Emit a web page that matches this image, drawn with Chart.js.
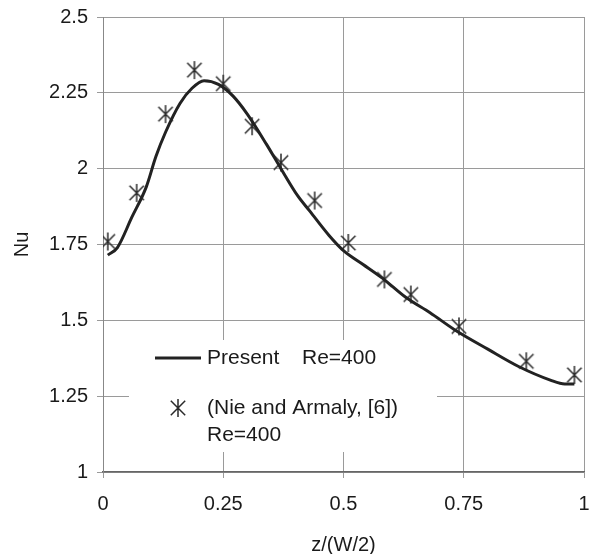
<!DOCTYPE html>
<html>
<head>
<meta charset="utf-8">
<script src="https://cdn.jsdelivr.net/npm/chart.js@4"></script>
<style>
  html, body { margin: 0; padding: 0; background: #fff; }
  #wrap { width: 595px; height: 554px; }
</style>
</head>
<body>
<div id="wrap"><canvas id="nu-chart" width="595" height="554"></canvas></div>
<script>
// Present simulation, Re=400
const zPresent = [0.01, 0.03, 0.06, 0.09, 0.11, 0.13, 0.16, 0.185, 0.21, 0.24, 0.27, 0.30, 0.34, 0.37, 0.405, 0.43, 0.47, 0.50, 0.54, 0.58, 0.63, 0.68, 0.73, 0.80, 0.865, 0.93, 0.96, 0.98];
const nuPresent = [1.715, 1.74, 1.84, 1.94, 2.04, 2.12, 2.215, 2.265, 2.29, 2.278, 2.24, 2.18, 2.08, 2.0, 1.91, 1.86, 1.78, 1.73, 1.685, 1.64, 1.575, 1.525, 1.47, 1.405, 1.347, 1.303, 1.29, 1.29];

// Nie and Armaly [6], Re=400
const zNie = [0.01, 0.07, 0.13, 0.19, 0.25, 0.31, 0.37, 0.44, 0.51, 0.585, 0.64, 0.74, 0.88, 0.98];
const nuNie = [1.76, 1.92, 2.18, 2.325, 2.28, 2.14, 2.02, 1.895, 1.755, 1.635, 1.585, 1.48, 1.365, 1.32];

const xTicks = [0, 0.25, 0.5, 0.75, 1];
const yTicks = [1, 1.25, 1.5, 1.75, 2, 2.25, 2.5];

const FONT = '"Liberation Sans", Arial, sans-serif';
const INK = '#1a1a1a';

// six-spoke asterisk marker
function makeAsterisk(size) {
    const c = document.createElement('canvas');
    c.width = size; c.height = size;
    const g = c.getContext('2d');
    const m = size / 2, r = size / 2 - 1;
    g.strokeStyle = '#2a2a2a';
    g.lineWidth = 1.5;
    g.beginPath();
    g.moveTo(m, m - r); g.lineTo(m, m + r);
    const d = r * 0.8;
    g.moveTo(m - d, m - d); g.lineTo(m + d, m + d);
    g.moveTo(m + d, m - d); g.lineTo(m - d, m + d);
    g.stroke();
    return c;
}
const star = makeAsterisk(20);

const legendBox = {
    id: 'legendBox',
    beforeDatasetsDraw(chart) {
        const ctx = chart.ctx;
        const a = chart.chartArea;
        const x0 = a.left + 26, y0 = a.top + 323;
        ctx.save();
        ctx.fillStyle = '#fff';
        ctx.fillRect(x0, y0, 308, 112);
        ctx.strokeStyle = '#222';
        ctx.lineWidth = 3;
        ctx.beginPath();
        ctx.moveTo(x0 + 26, y0 + 18);
        ctx.lineTo(x0 + 72, y0 + 18);
        ctx.stroke();
        ctx.drawImage(star, x0 + 39, y0 + 58);
        ctx.fillStyle = INK;
        ctx.font = '21px ' + FONT;
        ctx.textBaseline = 'middle';
        ctx.fillText('Present', x0 + 78, y0 + 18);
        ctx.fillText('Re=400', x0 + 173, y0 + 18);
        ctx.fillText('(Nie and Armaly, [6])', x0 + 78, y0 + 68);
        ctx.fillText('Re=400', x0 + 78, y0 + 95);
        ctx.restore();
    }
};

new Chart(document.querySelector('#nu-chart').getContext('2d'), {
    type: 'scatter',
    data: {
        datasets: [
            {
                label: 'Present Re=400',
                data: zPresent.map((z, i) => ({ x: z, y: nuPresent[i] })),
                showLine: true,
                borderColor: '#222',
                borderWidth: 3,
                pointRadius: 0,
                cubicInterpolationMode: 'monotone'
            },
            {
                label: '(Nie and Armaly, [6]) Re=400',
                data: zNie.map((z, i) => ({ x: z, y: nuNie[i] })),
                pointStyle: star,
                pointRadius: 10
            }
        ]
    },
    plugins: [legendBox],
    options: {
        responsive: false,
        animation: false,
        events: [],
        layout: { padding: { top: 17, right: 1, left: 0, bottom: 0 } },
        plugins: { legend: { display: false }, tooltip: { enabled: false } },
        scales: {
            x: {
                type: 'linear',
                min: 0, max: 1,
                afterBuildTicks: s => { s.ticks = xTicks.map(v => ({ value: v })); },
                afterFit: s => { s.height = 82; s.paddingLeft = 0; s.paddingRight = 0; },
                ticks: { color: INK, font: { family: FONT, size: 20 }, padding: 14, maxRotation: 0, callback: v => String(v) },
                grid: { color: '#9a9a9a', lineWidth: 1, tickLength: 6 },
                border: { color: '#666', width: 1.5 },
                title: { display: true, text: 'z/(W/2)', color: INK, font: { family: FONT, size: 20 }, padding: { top: 0, bottom: -3 } }
            },
            y: {
                min: 1, max: 2.5,
                afterBuildTicks: s => { s.ticks = yTicks.map(v => ({ value: v })); },
                afterFit: s => { s.width = 103; s.paddingTop = 0; s.paddingBottom = 0; },
                ticks: { color: INK, font: { family: FONT, size: 20 }, padding: 9, callback: v => String(v) },
                grid: { color: '#9a9a9a', lineWidth: 1, tickLength: 6 },
                border: { color: '#888', width: 1 },
                title: { display: true, text: 'Nu', color: INK, font: { family: FONT, size: 20 }, padding: { top: 10, bottom: 0 } }
            }
        }
    }
});
</script>
</body>
</html>
